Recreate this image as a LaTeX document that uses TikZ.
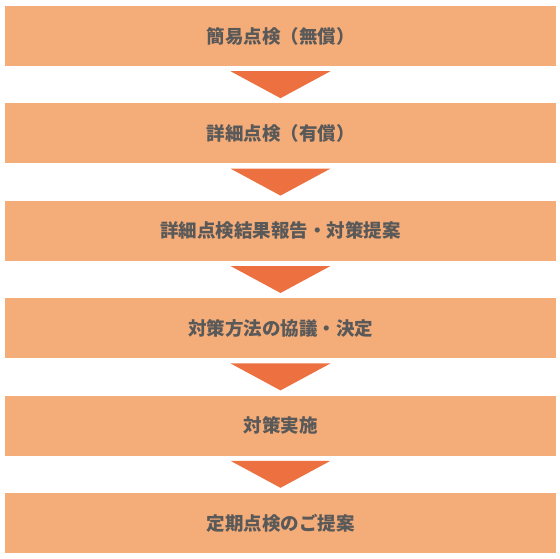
\documentclass[tikz,border=0pt]{standalone}
\usepackage{fontspec}
\newfontfamily\jpfont{Noto Sans CJK JP}
\usetikzlibrary{calc, positioning}
\definecolor{boxorange}{HTML}{F4AC78}
\definecolor{arroworange}{HTML}{ED7040}
\definecolor{textgray}{HTML}{595959}

\begin{document}
\begin{tikzpicture}[x=1pt,y=1pt,
  stepbox/.style={fill=boxorange, minimum width=551pt, minimum height=60pt,
    inner sep=0pt, text=textgray, font=\jpfont\bfseries\fontsize{18.5}{22}\selectfont},
  arrowtri/.style={fill=arroworange}]
\useasboundingbox (0,0) rectangle (560,-559);
% Steps, top to bottom
\node[stepbox] (s1) at (280.5,-36) {簡易点検（無償）};
\node[stepbox, below=37pt of s1] (s2) {詳細点検（有償）};
\node[stepbox, below=37pt of s2] (s3) {詳細点検結果報告・対策提案};
\node[stepbox, below=37pt of s3] (s4) {対策方法の協議・決定};
\node[stepbox, below=37pt of s4] (s5) {対策実施};
\node[stepbox, below=37pt of s5] (s6) {定期点検のご提案};
% Down arrows between the steps
\foreach \a/\b in {s1/s2, s2/s3, s3/s4, s4/s5, s5/s6}
  \fill[arrowtri] ($(\a.south)+(-50,-5)$) -- ($(\a.south)+(50,-5)$)
    -- ($(\b.north)+(0,5)$) -- cycle;
\end{tikzpicture}
\end{document}
